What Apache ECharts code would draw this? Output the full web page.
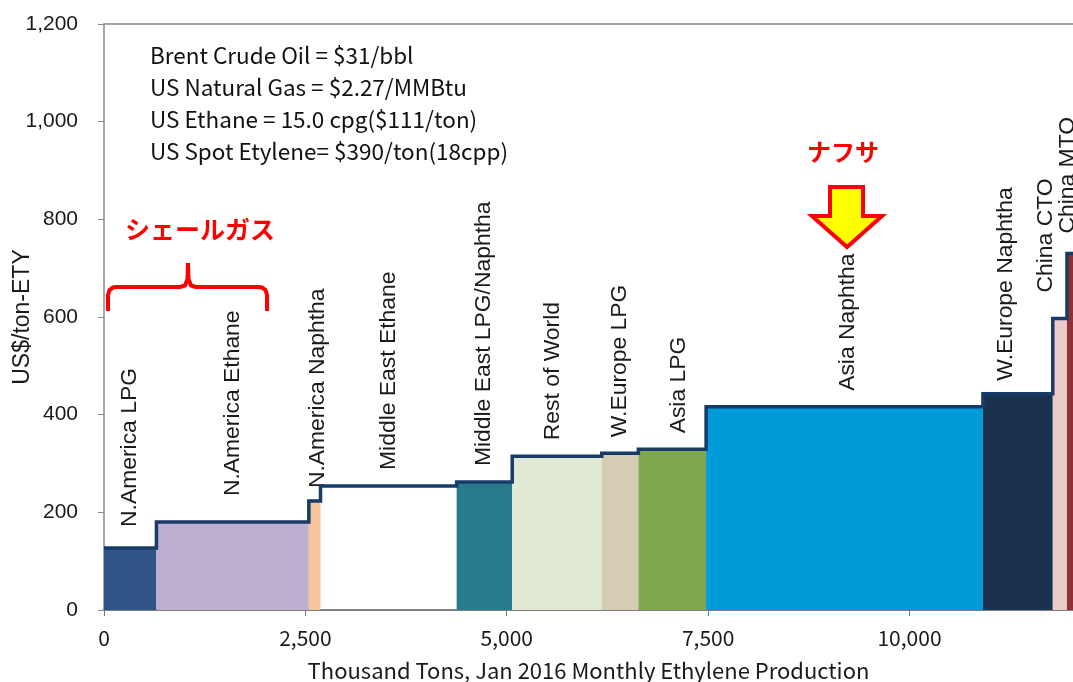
<!DOCTYPE html>
<html>
<head>
<meta charset="utf-8">
<script src="https://cdn.jsdelivr.net/npm/echarts@6/dist/echarts.min.js"></script>
<style>
  html, body { margin: 0; padding: 0; background: #fff; }
  #chart { width: 1073px; height: 682px; }
</style>
</head>
<body>
<div id="chart"></div>
<script>
// 各地域のエチレン生産（コストカーブ）
const regions = [
  "N.America LPG", "N.America Ethane", "N.America Naphtha", "Middle East Ethane",
  "Middle East LPG/Naphtha", "Rest of World", "W.Europe LPG", "Asia LPG",
  "Asia Naphtha", "W.Europe Naphtha", "China CTO", "China MTO"
];
// 生産量（千トン）- 横幅
const volumes = [651, 1892, 145, 1690, 690, 1111, 455, 841, 3437, 867, 176, 75];
// コスト（US$/ton-ETY）- 高さ
const costs = [127, 180, 223, 254, 262, 315, 321, 329, 416, 443, 597, 730];
const colors = [
  "#2f5486", "#bdb0cf", "#f6c49c", "rgba(255,255,255,0)", "#277b8b", "#e0e9d3",
  "#d5ccb3", "#7fa74e", "#009bd9", "#1a3250", "#ebcaca", "#8e3034"
];
const notes = [
  "Brent Crude Oil = $31/bbl",
  "US Natural Gas = $2.27/MMBtu",
  "US Ethane = 15.0 cpg($111/ton)",
  "US Spot Etylene= $390/ton(18cpp)"
];

// ラベル位置の微調整（px）
const labelNudge = {
  "N.America LPG": [0, 5], "N.America Ethane": [0, 10], "N.America Naphtha": [3, -3],
  "Asia LPG": [7, 0], "Rest of World": [-4, 0], "Asia Naphtha": [3, 0],
  "W.Europe Naphtha": [-12, -3], "China CTO": [-14, 10], "China MTO": [-2, 4]
};

// 累積で開始・終了位置を作る
let acc = 0;
const barData = [];
const stepData = [];
regions.forEach((name, i) => {
  const start = acc;
  const end = acc + volumes[i];
  acc = end;
  barData.push([start, end, costs[i], i]);
  stepData.push([start, costs[i]], [end, costs[i]]);
});

const myChart = echarts.init(document.getElementById("chart"));

const renderBar = (params, api) => {
  const idx = api.value(3);
  const p0 = api.coord([api.value(0), 0]);
  const p1 = api.coord([api.value(1), api.value(2)]);
  const name = regions[idx];
  const nudge = labelNudge[name] || [0, 0];
  return {
    type: "group",
    children: [
      {
        type: "rect",
        shape: { x: p0[0], y: p1[1], width: p1[0] - p0[0], height: p0[1] - p1[1] },
        style: { fill: colors[idx] },
      },
      {
        type: "text",
        x: (p0[0] + p1[0]) / 2 + nudge[0],
        y: p1[1] - 16 - nudge[1],
        rotation: Math.PI / 2,
        scaleX: 1.04,
        style: {
          text: name,
          fill: "#1a1a1a",
          font: '22px "Liberation Sans", Arial, sans-serif',
          align: "left",
          verticalAlign: "middle",
        },
      },
    ],
  };
};

// 中括弧（シェールガス）
const bracePts = [
  [108, 311], [108, 295], [109.5, 290], [113, 287.5], [117, 287], [180, 287],
  [185, 285.5], [187.5, 279], [188, 263], [188.5, 279], [191, 285.5], [196, 287],
  [258, 287], [262, 287.5], [265.5, 290], [267, 295], [267, 311]
];

const option = {
  animation: false,
  backgroundColor: "#fff",
  grid: { left: 104, right: 0, top: 24, bottom: 72, outerBoundsMode: "none" },
  xAxis: [
    {
      type: "value",
      min: 0,
      max: 12030,
      interval: 2500,
      name: "Thousand Tons, Jan 2016 Monthly Ethylene Production",
      nameLocation: "middle",
      nameGap: 50,
      nameMoveOverlap: false,
      nameTextStyle: { fontFamily: "Noto Sans CJK JP", fontSize: 22, color: "#1a1a1a" },
      axisLine: { show: true, lineStyle: { color: "#555", width: 1.5 } },
      axisTick: { show: true, length: 6, lineStyle: { color: "#777" } },
      axisLabel: {
        fontFamily: "Noto Sans CJK JP",
        fontSize: 21,
        color: "#1a1a1a",
        margin: 18,
        showMaxLabel: false,
        formatter: (v) => v.toLocaleString("en-US"),
      },
      splitLine: { show: false },
    },
    {
      type: "value",
      position: "top",
      min: 0,
      max: 12030,
      axisLine: { show: true, lineStyle: { color: "#888", width: 1.5 } },
      axisTick: { show: false },
      axisLabel: { show: false },
      splitLine: { show: false },
    },
  ],
  yAxis: {
    type: "value",
    min: 0,
    max: 1200,
    interval: 200,
    name: "US$/ton-ETY",
    nameLocation: "middle",
    nameGap: 70,
    nameMoveOverlap: false,
    nameTextStyle: { fontFamily: "Liberation Sans", fontSize: 23, color: "#1a1a1a" },
    axisLine: { show: true, lineStyle: { color: "#888", width: 1.5 } },
    axisTick: { show: true, length: 6, lineStyle: { color: "#888" } },
    axisLabel: {
      fontFamily: "Liberation Sans",
      fontSize: 21,
      color: "#1a1a1a",
      margin: 26,
      formatter: (v) => v.toLocaleString("en-US"),
    },
    splitLine: { show: false },
  },
  series: [
    {
      type: "custom",
      renderItem: renderBar,
      encode: { x: [0, 1], y: 2 },
      data: barData,
      z: 2,
    },
    {
      type: "line",
      data: stepData,
      symbol: "none",
      lineStyle: { color: "#183b67", width: 3.5, join: "miter" },
      z: 3,
    },
  ],
  graphic: [
    ...notes.map((t, i) => ({
      type: "text",
      left: 150,
      top: 44 + i * 32,
      style: { text: t, fill: "#111", font: '22.5px "Noto Sans CJK JP"' },
    })),
    {
      type: "text",
      left: 125,
      top: 217,
      style: { text: "シェールガス", fill: "#ff0000", font: 'bold 25px "Noto Sans CJK JP"' },
    },
    {
      type: "polyline",
      shape: { points: bracePts },
      style: { fill: null, stroke: "#ff0000", lineWidth: 4 },
    },
    {
      type: "text",
      left: 807,
      top: 140,
      style: { text: "ナフサ", fill: "#ff0000", font: 'bold 24px "Noto Sans CJK JP"' },
    },
    {
      type: "polygon",
      shape: {
        points: [[830, 187], [863, 187], [863, 216], [882, 216], [847, 247], [812, 216], [830, 216]],
      },
      style: { fill: "#ffff00", stroke: "#ff0000", lineWidth: 4, lineJoin: "miter" },
    },
  ],
};

myChart.setOption(option);
</script>
</body>
</html>
